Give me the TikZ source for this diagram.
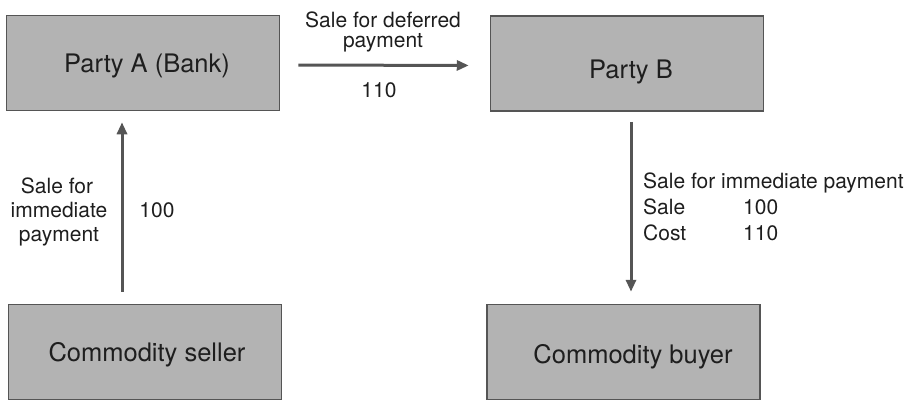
\documentclass[tikz,border=0pt]{standalone}
\usepackage{fontspec}
\setmainfont{TeX Gyre Heros}
\usetikzlibrary{arrows.meta}
\definecolor{boxfill}{HTML}{B3B3B3}
\definecolor{boxline}{HTML}{555555}
\definecolor{arrowc}{HTML}{555555}
\definecolor{txt}{HTML}{1E1E1E}
\begin{document}
\begin{tikzpicture}[x=1pt,y=-1pt,
  party/.style={draw=boxline,fill=boxfill,line width=1.5pt,minimum width=273pt,minimum height=95pt,
    inner sep=0pt,text height=18pt,text depth=0pt,text=txt,font=\fontsize{25.5}{30}\selectfont},
  lbl/.style={text=txt,inner sep=0pt,font=\fontsize{21}{24}\selectfont},
  flow/.style={draw=arrowc,line width=3pt,-{Triangle[length=12pt,width=10pt]}}]
\useasboundingbox (0,0) rectangle (920,402);
\node[party] (A) at (143,63) {\hspace*{8pt}Party A (Bank)};
\node[party] (B) at (627,63.5) {\hspace*{8pt}\raisebox{-5.5pt}{Party B}};
\node[party] (S) at (145,352) {\hspace*{4pt}Commodity seller};
\node[party] (C) at (623.5,352) {\hspace*{19pt}\raisebox{-2pt}{Commodity buyer}};
% connectors
\draw[flow,shorten <=18pt,shorten >=21pt] ([yshift=-2pt]A.east) -- ([yshift=-2pt]B.west);
\draw[flow,shorten <=12pt,shorten >=11pt] ([xshift=-23pt]S.north) -- ([xshift=-23pt]S.north |- A.south);
\draw[flow,shorten <=10pt,shorten >=12pt] ([xshift=4pt]B.south) -- ([xshift=4pt]B.south |- C.north);
% labels top arrow
\node[lbl,anchor=base] (t1) at (383,27) {Sale for deferred};
\node[lbl,anchor=base] (t2) at (383,47) {payment};
\node[lbl,anchor=base] (t3) at (379,97) {110};
% labels left arrow
\node[lbl,anchor=base] (l1) at (57,193) {Sale for};
\node[lbl,anchor=base] (l2) at (59,217) {immediate};
\node[lbl,anchor=base] (l3) at (59,241) {payment};
\node[lbl,anchor=base] (l4) at (157,217) {100};
% labels right arrow
\node[lbl,anchor=base west] (r1) at (643,188) {Sale for immediate payment};
\node[lbl,anchor=base west] (r2) at (643,214) {Sale};
\node[lbl,anchor=base west] (r3) at (743,214) {100};
\node[lbl,anchor=base west] (r4) at (643,240) {Cost};
\node[lbl,anchor=base west] (r5) at (743,240) {110};
\end{tikzpicture}
\end{document}
